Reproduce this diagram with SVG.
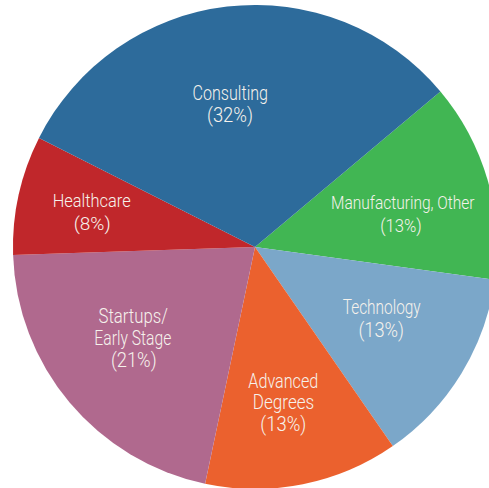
<svg xmlns="http://www.w3.org/2000/svg" width="489" height="488" viewBox="0 0 489 488">
<style>
.lbl{font-family:Roboto,"Liberation Sans",sans-serif;font-weight:300;fill:#f6f2ec;text-anchor:middle;font-size:20px}
.sm{font-size:18px}
</style>
<rect width="489" height="488" fill="#ffffff"/>
<g id="slices">
<g id="manufacturing"><path d="M255,247 L440.4,91.4 A242,242 0 0 1 494.8,279.8 Z" fill="#41b653"/></g>
<g id="technology"><path d="M255,247 L494.8,279.8 A242,242 0 0 1 392.8,446 Z" fill="#7ba7c9"/></g>
<g id="advanced"><path d="M255,247 L392.8,446 A242,242 0 0 1 205.1,483.8 Z" fill="#eb612e"/></g>
<g id="startups"><path d="M255,247 L205.1,483.8 A242,242 0 0 1 13.1,255 Z" fill="#b0698e"/></g>
<g id="healthcare"><path d="M255,247 L13.1,255 A242,242 0 0 1 39,137.9 Z" fill="#c0272b"/></g>
<g id="consulting"><path d="M255,247 L39,137.9 A242,242 0 0 1 440.4,91.4 Z" fill="#2d6b9b"/></g>
</g>
<g id="labels">
<text class="lbl" x="230.3" y="99.5" textLength="75.5" lengthAdjust="spacingAndGlyphs">Consulting</text>
<text class="lbl" x="230" y="122" textLength="46" lengthAdjust="spacingAndGlyphs">(32%)</text>
<text class="lbl sm" transform="translate(402.8,209.3) scale(0.85,1)" x="0" y="0" textLength="168.8" lengthAdjust="spacingAndGlyphs">Manufacturing, Other</text>
<text class="lbl sm" x="401" y="232" textLength="41.5" lengthAdjust="spacingAndGlyphs">(13%)</text>
<text class="lbl" style="font-size:19px" x="91.7" y="207.2" textLength="78" lengthAdjust="spacingAndGlyphs">Healthcare</text>
<text class="lbl" style="font-size:19px" x="92.2" y="229.8" textLength="37" lengthAdjust="spacingAndGlyphs">(8%)</text>
<text class="lbl" x="381.7" y="314.3" textLength="78" lengthAdjust="spacingAndGlyphs">Technology</text>
<text class="lbl" x="381.3" y="336.5" textLength="45.5" lengthAdjust="spacingAndGlyphs">(13%)</text>
<text class="lbl" x="133.2" y="323.3" textLength="69.5" lengthAdjust="spacingAndGlyphs">Startups/</text>
<text class="lbl" x="132.8" y="345" textLength="77" lengthAdjust="spacingAndGlyphs">Early Stage</text>
<text class="lbl" x="133.8" y="367" textLength="45.8" lengthAdjust="spacingAndGlyphs">(21%)</text>
<text class="lbl" x="283.3" y="387.5" textLength="70" lengthAdjust="spacingAndGlyphs">Advanced</text>
<text class="lbl" x="283.5" y="409.2" textLength="61.5" lengthAdjust="spacingAndGlyphs">Degrees</text>
<text class="lbl" x="283.3" y="431" textLength="46" lengthAdjust="spacingAndGlyphs">(13%)</text>
</g>
</svg>
